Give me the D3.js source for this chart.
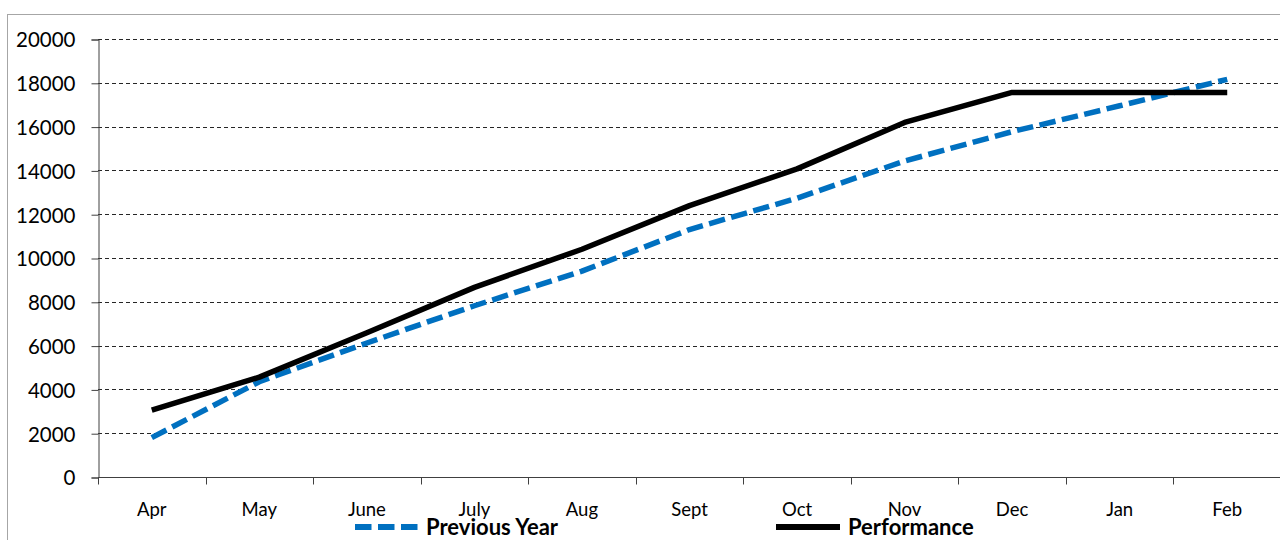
<!DOCTYPE html>
<html>
<head>
<meta charset="utf-8">
<script src="https://cdn.jsdelivr.net/npm/d3@7"></script>
<style>
  html, body { margin: 0; padding: 0; background: #fff; }
  svg { display: block; }
  text { font-family: Lato, "Liberation Sans", sans-serif; fill: #000; }
</style>
</head>
<body>
<svg id="chart" width="1280" height="540"></svg>
<script>
const months = ["Apr","May","June","July","Aug","Sept","Oct","Nov","Dec","Jan","Feb"];
const previousYear = [1800, 4350, 6120, 7820, 9400, 11300, 12730, 14430, 15770, 16950, 18160];
const performance = [3050, 4560, 6590, 8660, 10400, 12390, 14070, 16190, 17560, 17560, 17560];
const yTicks = [0, 2000, 4000, 6000, 8000, 10000, 12000, 14000, 16000, 18000, 20000];
const seriesNames = ["Previous Year", "Performance"];

const svg = d3.select("#chart");
const plotLeft = 98, plotRight = 1281, plotTop = 39, plotBottom = 477;

// outer frame
svg.append("rect").attr("x", 7.5).attr("y", 14.5).attr("width", 1300).attr("height", 600)
  .attr("fill", "#fff").attr("stroke", "#a6a6a6").attr("stroke-width", 1);

const x = d3.scaleBand().domain(months).range([plotLeft, plotRight]).padding(0);
const y = d3.scaleLinear().domain([0, 20000]).range([plotBottom, plotTop]);

// gridlines
svg.append("g").selectAll("line").data(yTicks.filter(d => d > 0)).join("line")
  .attr("x1", plotLeft).attr("x2", plotRight)
  .attr("y1", d => Math.round(y(d)) + 0.5).attr("y2", d => Math.round(y(d)) + 0.5)
  .attr("stroke", "#262626").attr("stroke-width", 1).attr("stroke-dasharray", "4,3");

// y axis
const yAxis = d3.axisLeft(y).tickValues(yTicks).tickSize(7).tickPadding(16).tickFormat(d3.format("d"));
const gy = svg.append("g").attr("transform", `translate(${plotLeft + 0.5},0.5)`).call(yAxis);
gy.select(".domain").attr("stroke", "#404040");
gy.selectAll(".tick line").attr("stroke", "#404040");
gy.selectAll(".tick text").attr("font-size", 20.5).attr("font-family", "Lato, sans-serif").attr("fill", "#000").attr("dy", "0.36em");

// x axis
const gx = svg.append("g").attr("transform", `translate(0,${plotBottom + 0.5})`);
gx.append("line").attr("x1", plotLeft).attr("x2", plotRight).attr("y1", 0).attr("y2", 0).attr("stroke", "#404040");
const bounds = months.map(m => x(m)).concat([x(months[months.length - 1]) + x.bandwidth()]);
gx.selectAll("line.tk").data(bounds).join("line").attr("class", "tk")
  .attr("x1", d => Math.round(d) + 0.5).attr("x2", d => Math.round(d) + 0.5)
  .attr("y1", 0).attr("y2", 7).attr("stroke", "#404040");
gx.selectAll("text").data(months).join("text")
  .attr("x", d => x(d) + x.bandwidth() / 2).attr("y", 38.5)
  .attr("text-anchor", "middle").attr("font-size", 18.5).text(d => d);

// lines
const line = d3.line().x((d, i) => x(months[i]) + x.bandwidth() / 2).y(d => y(d));
svg.append("path").datum(previousYear).attr("d", line)
  .attr("fill", "none").attr("stroke", "#0070C0").attr("stroke-width", 5.5)
  .attr("stroke-dasharray", "16.5,6.5").attr("stroke-linejoin", "round");
svg.append("path").datum(performance).attr("d", line)
  .attr("fill", "none").attr("stroke", "#000").attr("stroke-width", 5.5)
  .attr("stroke-linejoin", "round");

// legend
const legend = [
  {name: seriesNames[0], color: "#0070C0", dash: "16.5,6.5", x1: 355, tx: 426},
  {name: seriesNames[1], color: "#000", dash: null, x1: 776, tx: 848}
];
const lg = svg.append("g");
legend.forEach(l => {
  lg.append("line").attr("x1", l.x1).attr("x2", l.x1 + 64).attr("y1", 527).attr("y2", 527)
    .attr("stroke", l.color).attr("stroke-width", 6).attr("stroke-dasharray", l.dash);
  lg.append("text").attr("x", l.tx).attr("y", 535).attr("font-size", 22).attr("font-weight", "bold").text(l.name);
});
</script>
</body>
</html>
